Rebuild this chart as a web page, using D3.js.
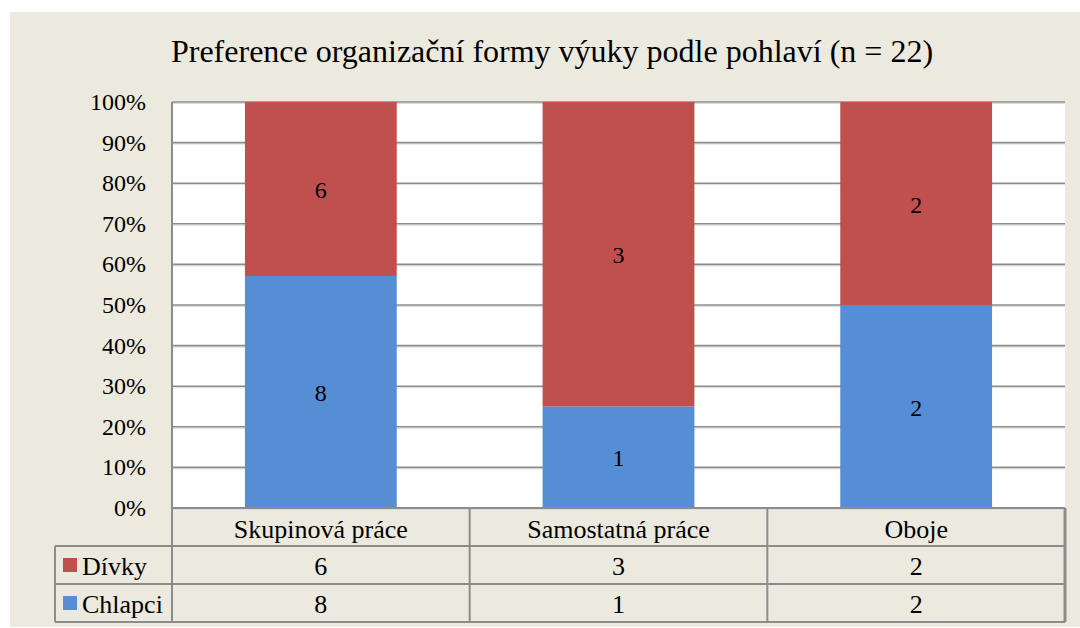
<!doctype html>
<html>
<head>
<meta charset="utf-8">
<script src="https://cdnjs.cloudflare.com/ajax/libs/d3/7.8.5/d3.min.js"></script>
<style>
  body { margin: 0; background: #fff; }
</style>
</head>
<body>
<svg id="chart" width="1080" height="628" font-family="'Liberation Serif', 'Times New Roman', Times, serif"></svg>
<script>
// data
var categories = ["Skupinová práce", "Samostatná práce", "Oboje"];
var seriesNames = ["Dívky", "Chlapci"];
var divky = [6, 3, 2];
var chlapci = [8, 1, 2];
var yTicks = [0, 0.1, 0.2, 0.3, 0.4, 0.5, 0.6, 0.7, 0.8, 0.9, 1];
var colors = {"Dívky": "#C0504D", "Chlapci": "#558ED5"};

var svg = d3.select("#chart");
var grid = "#8c8c8c";

// outer chart area
svg.append("rect").attr("x", 10).attr("y", 12).attr("width", 1070).attr("height", 615)
    .attr("fill", "#ECE9DF");

svg.append("text").attr("x", 552).attr("y", 62).attr("text-anchor", "middle")
    .style("font-size", "32px")
    .text("Preference organizační formy výuky podle pohlaví (n = 22)");

var plotL = 172, plotR = 1065, plotT = 102, plotB = 508;
var rowH = 38;

var x = d3.scaleBand().domain(categories).range([plotL, plotR])
    .paddingInner(0.49).paddingOuter(0.245);
var cols = d3.scaleBand().domain(categories).range([plotL, plotR]);
var y = d3.scaleLinear().domain([0, 1]).range([plotB, plotT]);

// plot background
svg.append("rect").attr("x", plotL).attr("y", plotT).attr("width", plotR - plotL)
    .attr("height", plotB - plotT).attr("fill", "#fff");

// gridlines
svg.append("g").selectAll("line").data(yTicks).enter().append("line")
    .attr("x1", plotL).attr("x2", plotR)
    .attr("y1", function(d) { return y(d) + 1.5; }).attr("y2", function(d) { return y(d) + 1.5; })
    .attr("stroke", "#dcdcdc").attr("stroke-width", 1);
svg.append("g").selectAll("line").data(yTicks).enter().append("line")
    .attr("x1", plotL).attr("x2", plotR)
    .attr("y1", function(d) { return y(d); }).attr("y2", function(d) { return y(d); })
    .attr("stroke", grid).attr("stroke-width", 1.6);

// stacked bars
var rows = categories.map(function(c, i) {
    return {cat: c, "Dívky": divky[i], "Chlapci": chlapci[i]};
});
var stack = d3.stack().keys(["Chlapci", "Dívky"]).offset(d3.stackOffsetExpand);
var series = stack(rows);

var layer = svg.append("g").selectAll("g").data(series).enter().append("g")
    .attr("fill", function(d) { return colors[d.key]; });

layer.selectAll("rect").data(function(d) { return d; }).enter().append("rect")
    .attr("x", function(d) { return x(d.data.cat); })
    .attr("width", x.bandwidth())
    .attr("y", function(d) { return y(d[1]); })
    .attr("height", function(d) { return y(d[0]) - y(d[1]); });

var labels = svg.append("g");
series.forEach(function(s) {
    labels.selectAll(null).data(s).enter().append("text")
        .attr("x", function(d) { return x(d.data.cat) + x.bandwidth() / 2; })
        .attr("y", function(d) { return (y(d[0]) + y(d[1])) / 2 + 9; })
        .attr("text-anchor", "middle").attr("fill", "#000")
        .style("font-size", "24px")
        .text(function(d) { return d.data[s.key]; });
});

// y axis labels
svg.append("g").selectAll("text").data(yTicks).enter().append("text")
    .attr("x", 146).attr("y", function(d) { return y(d) + 8; })
    .attr("text-anchor", "end").style("font-size", "24px")
    .text(d3.format(".0%"));

// data table
var tbl = svg.append("g");
var tableRows = [{name: "Dívky", vals: divky}, {name: "Chlapci", vals: chlapci}];
var legL = 55;

// horizontal lines
[plotB, plotB + rowH, plotB + 2 * rowH, plotB + 3 * rowH].forEach(function(yy, i) {
    tbl.append("line").attr("x1", i === 0 ? plotL : legL).attr("x2", plotR)
        .attr("y1", yy).attr("y2", yy).attr("stroke", grid).attr("stroke-width", 2);
});
// vertical lines
tbl.append("line").attr("x1", plotL).attr("x2", plotL).attr("y1", plotT).attr("y2", plotB + 3 * rowH)
    .attr("stroke", grid).attr("stroke-width", 2);
tbl.append("line").attr("x1", legL).attr("x2", legL).attr("y1", plotB + rowH).attr("y2", plotB + 3 * rowH)
    .attr("stroke", grid).attr("stroke-width", 2);
categories.forEach(function(c) {
    var xx = cols(c) + cols.bandwidth();
    tbl.append("line").attr("x1", xx).attr("x2", xx).attr("y1", plotB).attr("y2", plotB + 3 * rowH)
        .attr("stroke", grid).attr("stroke-width", xx > 1000 ? 3 : 2);
});

// header
tbl.selectAll("text.cat").data(categories).enter().append("text")
    .attr("class", "cat")
    .attr("x", function(d) { return cols(d) + cols.bandwidth() / 2; })
    .attr("y", plotB + 30).attr("text-anchor", "middle").style("font-size", "26px")
    .text(function(d) { return d; });

tableRows.forEach(function(r, i) {
    var yy = plotB + rowH * (i + 1);
    tbl.append("rect").attr("x", 63).attr("y", yy + 12).attr("width", 14).attr("height", 14)
        .attr("fill", colors[r.name]);
    tbl.append("text").attr("x", 82).attr("y", yy + 29).style("font-size", "26px").text(r.name);
    r.vals.forEach(function(v, j) {
        tbl.append("text").attr("x", cols(categories[j]) + cols.bandwidth() / 2)
            .attr("y", yy + 29).attr("text-anchor", "middle").style("font-size", "26px").text(v);
    });
});
</script>
</body>
</html>
